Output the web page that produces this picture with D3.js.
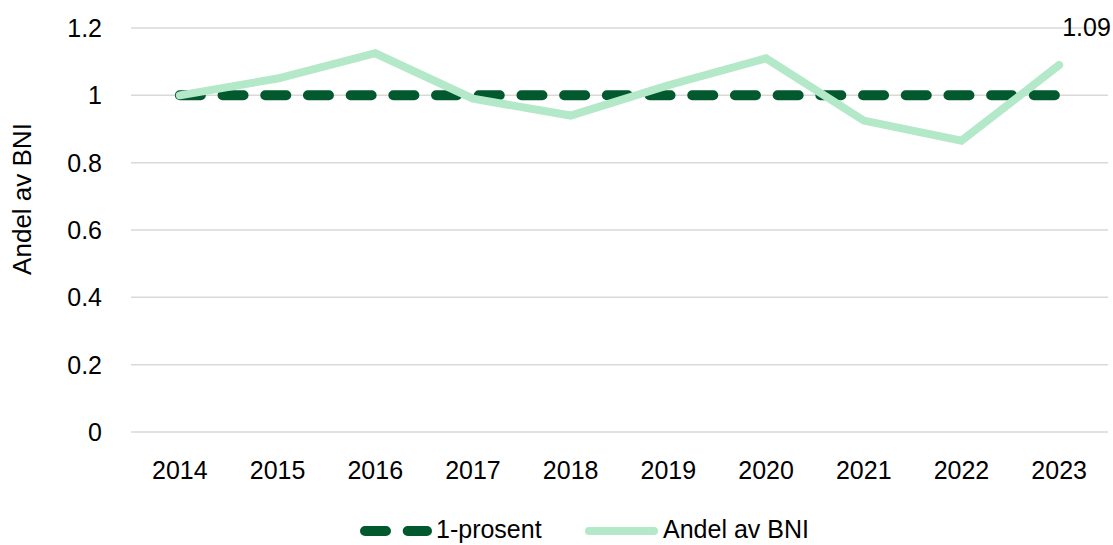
<!DOCTYPE html>
<html>
<head>
<meta charset="utf-8">
<script src="https://cdn.jsdelivr.net/npm/d3@7"></script>
<style>
  body { margin: 0; background: #fff; }
  svg { display: block; font-family: "Liberation Sans", Arial, sans-serif; }
</style>
</head>
<body>
<svg id="chart" width="1113" height="545"></svg>
<script>
// data
const years = ["2014", "2015", "2016", "2017", "2018", "2019", "2020", "2021", "2022", "2023"];
const prosent = [1, 1, 1, 1, 1, 1, 1, 1, 1, 1];
const andelBNI = [1.0, 1.05, 1.125, 0.99, 0.94, 1.03, 1.11, 0.925, 0.865, 1.09];
const yTicks = [0, 0.2, 0.4, 0.6, 0.8, 1, 1.2];

const dark = "#03592e";
const light = "#b3e8c9";

const svg = d3.select("#chart");

const x = d3.scaleBand().domain(years).range([131, 1108]);
const y = d3.scaleLinear().domain([0, 1.2]).range([432, 28]);
const cx = d => x(d) + x.bandwidth() / 2;

// gridlines
svg.append("g")
  .selectAll("line")
  .data(yTicks)
  .join("line")
  .attr("x1", 131)
  .attr("x2", 1108)
  .attr("y1", d => y(d))
  .attr("y2", d => y(d))
  .attr("stroke", "#d9d9d9")
  .attr("stroke-width", 1.5);

// y tick labels
svg.append("g")
  .selectAll("text")
  .data(yTicks)
  .join("text")
  .attr("x", 102)
  .attr("y", d => y(d) + 9)
  .attr("text-anchor", "end")
  .attr("font-size", 25)
  .attr("fill", "#000")
  .text(d => d);

// x tick labels
svg.append("g")
  .selectAll("text")
  .data(years)
  .join("text")
  .attr("x", d => cx(d))
  .attr("y", 479)
  .attr("text-anchor", "middle")
  .attr("font-size", 25)
  .attr("fill", "#000")
  .text(d => d);

// y axis title
svg.append("text")
  .attr("transform", "translate(31,199) rotate(-90)")
  .attr("text-anchor", "middle")
  .attr("font-size", 26)
  .attr("fill", "#000")
  .text("Andel av BNI");

const line = d3.line()
  .x((d, i) => cx(years[i]))
  .y(d => y(d));

svg.append("path")
  .datum(prosent)
  .attr("d", line)
  .attr("fill", "none")
  .attr("stroke", dark)
  .attr("stroke-width", 10)
  .attr("stroke-linecap", "round")
  .attr("stroke-dasharray", "21,21.7");

svg.append("path")
  .datum(andelBNI)
  .attr("d", line)
  .attr("fill", "none")
  .attr("stroke", light)
  .attr("stroke-width", 8)
  .attr("stroke-linecap", "round")
  .attr("stroke-linejoin", "miter");

// data label for last point
const last = andelBNI.length - 1;
svg.append("text")
  .attr("x", cx(years[last]) + 3)
  .attr("y", 36)
  .attr("font-size", 25)
  .attr("fill", "#000")
  .text(andelBNI[last].toFixed(2));

// legend
const legend = svg.append("g");
legend.append("line")
  .attr("x1", 365).attr("x2", 427)
  .attr("y1", 531).attr("y2", 531)
  .attr("stroke", dark)
  .attr("stroke-width", 10)
  .attr("stroke-linecap", "round")
  .attr("stroke-dasharray", "21,21.7");
legend.append("text")
  .attr("x", 436).attr("y", 538)
  .attr("font-size", 25)
  .text("1-prosent");
legend.append("line")
  .attr("x1", 589).attr("x2", 654)
  .attr("y1", 531).attr("y2", 531)
  .attr("stroke", light)
  .attr("stroke-width", 8)
  .attr("stroke-linecap", "round");
legend.append("text")
  .attr("x", 663).attr("y", 538)
  .attr("font-size", 25)
  .text("Andel av BNI");
</script>
</body>
</html>
